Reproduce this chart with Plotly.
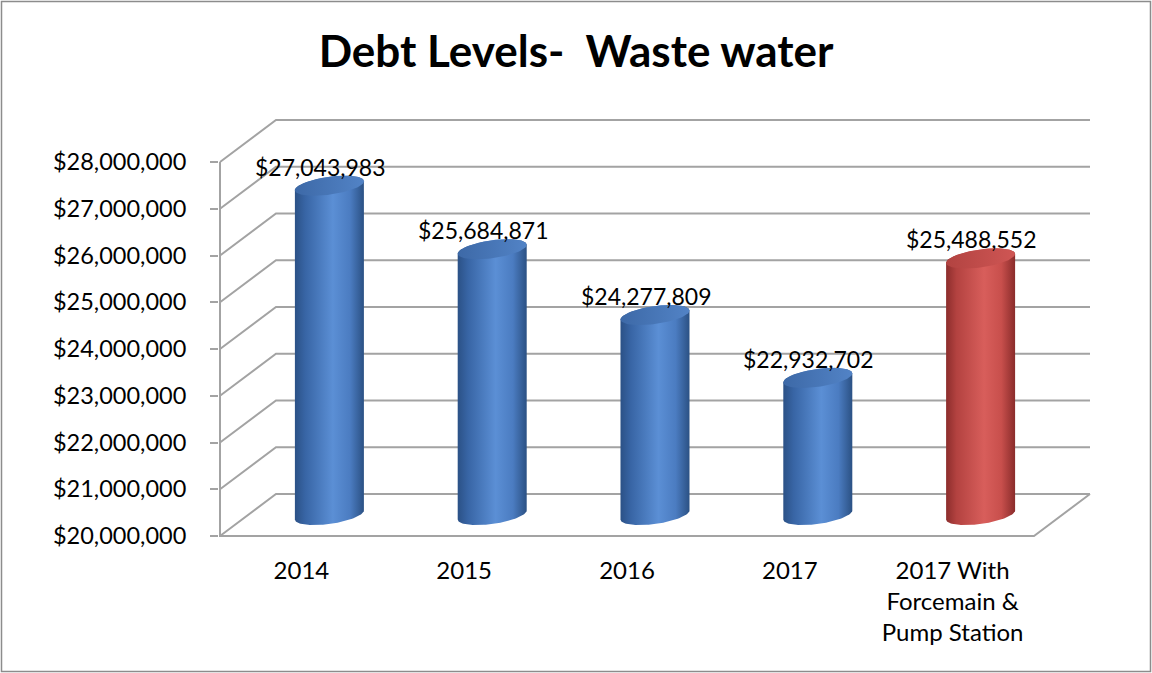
import numpy as np
import plotly.graph_objects as go

# ---- data ----
categories = ["2014", "2015", "2016", "2017", "2017 With<br>Forcemain &<br>Pump Station"]
debt = [27043983, 25684871, 24277809, 22932702, 25488552]
bar_colors = ["blue", "blue", "blue", "blue", "red"]
y_ticks = [20e6, 21e6, 22e6, 23e6, 24e6, 25e6, 26e6, 27e6, 28e6]

# ---- page / plot geometry (pixels) ----
W, H = 1152, 673
PL, PR, PT, PB = 219, 1096, 116, 538          # plot area edges
PX_PER_CAT = 162.8                             # px per category slot
PX_PER_DOLLAR = 46.75e-6                       # px per dollar on the value axis

x_min = -0.5 - 1 / PX_PER_CAT
x_max = x_min + (PR - PL) / PX_PER_CAT
y_min = 20e6 - 2 / PX_PER_DOLLAR
y_max = y_min + (PB - PT) / PX_PER_DOLLAR

# depth of the 3-D box (back wall offset), in data units
DX = 56 / PX_PER_CAT
DY = 42 / PX_PER_DOLLAR
base_val = 20e6
x_lo, x_hi = -0.5, len(categories) - 0.5

GRID = "#a3a3a3"
fig = go.Figure()

# back wall gridlines with their diagonal side-wall runs
for v in y_ticks:
    fig.add_trace(go.Scatter(
        x=[x_lo, x_lo + DX, x_hi + DX], y=[v, v + DY, v + DY],
        mode="lines", line=dict(color=GRID, width=2),
        hoverinfo="skip", showlegend=False))

# front edge of the floor, right floor edge, front-left vertical edge
fig.add_trace(go.Scatter(
    x=[x_lo, x_lo, x_hi, x_hi + DX], y=[y_ticks[-1], base_val, base_val, base_val + DY],
    mode="lines", line=dict(color=GRID, width=2),
    hoverinfo="skip", showlegend=False))

# ---- cylinders ----
palettes = {
    "blue": dict(body=[[0, "#2b5186"], [0.15, "#3865a5"], [0.55, "#5b8fd5"],
                       [0.8, "#4b7cc1"], [1, "#2b5184"]],
                 top=[[0, "#3d69a7"], [1, "#5283c6"]]),
    "red": dict(body=[[0, "#8c2d2c"], [0.15, "#b34240"], [0.55, "#d85e5b"],
                      [0.8, "#c84f4c"], [1, "#8a2c2b"]],
                top=[[0, "#b24341"], [1, "#cf5654"]]),
}

a = 34.5 / PX_PER_CAT          # half width
b = 9.0 / PX_PER_DOLLAR        # vertical radius of the end ellipses
s = 4.5 / PX_PER_DOLLAR        # perspective tilt of the ellipses


def ellipse(cx, cy, t):
    return cx + a * np.cos(t), cy + b * np.sin(t) + s * np.cos(t)


for i, (val, col) in enumerate(zip(debt, bar_colors)):
    cx = i + DX / 2
    y_bot = base_val + DY / 2
    y_top = val + DY / 2
    front = np.linspace(np.pi, 2 * np.pi, 60)
    back = np.linspace(0, np.pi, 60)
    bx, by = ellipse(cx, y_bot, front)
    tx, ty = ellipse(cx, y_top, back)
    xs = np.concatenate([bx, tx, bx[:1]])
    ys = np.concatenate([by, ty, by[:1]])
    fig.add_trace(go.Scatter(
        x=xs, y=ys, mode="lines", line=dict(width=0), fill="toself",
        fillgradient=dict(type="horizontal", colorscale=palettes[col]["body"]),
        hoverinfo="skip", showlegend=False))
    full = np.linspace(0, 2 * np.pi, 90)
    ex, ey = ellipse(cx, y_top, full)
    fig.add_trace(go.Scatter(
        x=ex, y=ey, mode="lines", line=dict(width=0), fill="toself",
        fillgradient=dict(type="horizontal", colorscale=palettes[col]["top"]),
        hoverinfo="skip", showlegend=False))
    fig.add_annotation(
        x=cx, y=y_top, text=f"${val:,}", showarrow=False,
        xshift=-9, yshift=19, yanchor="middle",
        font=dict(family="Lato", size=23, color="black"))

fig.update_layout(
    width=W, height=H,
    margin=dict(l=PL, r=W - PR, t=PT, b=H - PB),
    paper_bgcolor="white", plot_bgcolor="white",
    title=dict(text="<b>Debt Levels-\u00a0 Waste water</b>",
               x=0.5, xanchor="center", y=1 - 52 / H, yanchor="middle",
               font=dict(family="Lato", size=44, color="black")),
    xaxis=dict(range=[x_min, x_max], tickvals=list(range(len(categories))),
               ticktext=categories, ticks="", showgrid=False, zeroline=False,
               showline=False, tickfont=dict(family="Lato", size=24, color="black"),
               ticklabelstandoff=16),
    xaxis2=dict(range=[x_min, x_max], overlaying="x", anchor="y", side="bottom",
                tickvals=[k - 0.5 for k in range(len(categories) + 1)],
                ticks="outside", ticklen=9, tickwidth=2, tickcolor=GRID,
                showticklabels=False, showgrid=False, zeroline=False, showline=False),
    yaxis=dict(range=[y_min, y_max], tickvals=y_ticks, tickformat="$,.0f",
               ticks="outside", ticklen=8, tickwidth=2, tickcolor=GRID,
               showgrid=False, zeroline=False, showline=False,
               tickfont=dict(family="Lato", size=23.5, color="black"),
               ticklabelstandoff=19),
    font=dict(family="Lato"),
)

# outer chart border
pw, ph = PR - PL, PB - PT
fig.add_shape(type="rect", xref="paper", yref="paper",
              x0=(1.5 - PL) / pw, x1=(W - 1.5 - PL) / pw,
              y0=(PB - (H - 1.5)) / ph, y1=(PB - 1.5) / ph,
              line=dict(color="#8c8c8c", width=1.5), layer="below")

fig.write_html("out.html")
